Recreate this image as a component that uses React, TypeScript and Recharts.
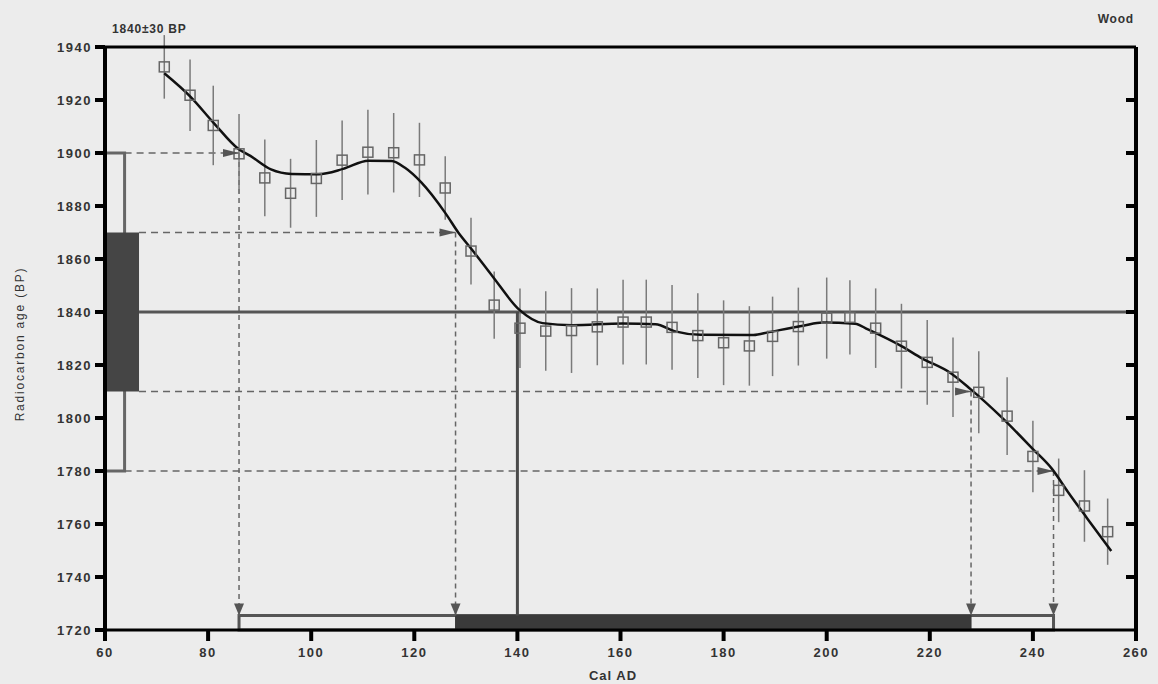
import React from 'react';
import {
  ComposedChart, Line, Scatter, ErrorBar, XAxis, YAxis,
  ReferenceLine, ReferenceArea, ReferenceDot,
} from 'recharts';

// ---------- data ----------
const xTicks = [60, 80, 100, 120, 140, 160, 180, 200, 220, 240, 260];
const yTicks = [1720, 1740, 1760, 1780, 1800, 1820, 1840, 1860, 1880, 1900, 1920, 1940];

const pointYears = [71.5, 76.5, 81, 86, 91, 96, 101, 106, 111, 116, 121, 126, 131, 135.5, 140.5,
  145.5, 150.5, 155.5, 160.5, 165, 170, 175, 180, 185, 189.5, 194.5, 200, 204.5, 209.5, 214.5,
  219.5, 224.5, 229.5, 235, 240, 245, 250, 254.5];
const pointAges = [1932.5, 1921.8, 1910.4, 1899.7, 1890.6, 1884.8, 1890.4, 1897.3, 1900.3, 1900.1,
  1897.4, 1886.8, 1863.0, 1842.6, 1833.9, 1832.8, 1833.0, 1834.4, 1836.2, 1836.2, 1834.2, 1831.1,
  1828.4, 1827.2, 1830.8, 1834.5, 1837.7, 1838.0, 1833.9, 1827.1, 1821.0, 1815.4, 1809.7, 1800.7,
  1785.5, 1772.7, 1766.8, 1757.1];
const pointErrors = [12, 13.5, 15, 15, 14.5, 13, 14.5, 15, 16, 15, 14, 12, 12.6, 12.7, 15, 15, 16,
  14.5, 16, 16, 16, 16, 16, 15, 15, 14.7, 15.3, 14, 15, 16, 16, 15, 15.5, 14.7, 13.5, 12, 13.5, 12.5];

const curveYears = [71.5, 76.6, 81.2, 85.9, 88.2, 92.2, 96.2, 101.4, 106.2, 111.1, 115.6, 118.2,
  121.4, 126.0, 128.6, 131.2, 135.2, 140.4, 144.9, 150.7, 160.4, 166.8, 170.6, 175.5, 185.8, 188.8,
  195.4, 199.2, 205.5, 208.0, 214.5, 218.5, 224.0, 227.9, 233.7, 240.0, 243.7, 246.8, 250.5, 255.2];
const curveAges = [1930.1, 1921.2, 1911.1, 1901.5, 1898.9, 1893.8, 1892.1, 1892.0, 1894.0, 1897.1,
  1897.0, 1894.4, 1888.8, 1877.4, 1869.8, 1863.5, 1853.4, 1840.8, 1835.8, 1835.0, 1835.7, 1835.4,
  1832.7, 1831.4, 1831.3, 1832.4, 1834.8, 1836.0, 1835.6, 1833.4, 1827.1, 1822.5, 1817.0, 1810.9,
  1800.7, 1788.3, 1780.8, 1772.1, 1762.2, 1749.8];

const measuredAge = 1840;
const sigma1Range = [1810, 1870];
const sigma2Range = [1780, 1900];
const cal1Range = [128, 228];
const cal2Range = [86, 244];
const calIntercept = 140;

// ---------- derived tables ----------
const points = pointYears.map((year, i) => ({ year, v: pointAges[i], err: pointErrors[i] }));
const curve = curveYears.map((year, i) => ({ year, v: curveAges[i] }));

// ---------- layout / style constants ----------
const X_MIN = 60;
const X_MAX = 260;
const Y_MIN = 1720;
const Y_MAX = 1940;
const BOX_OPEN_RIGHT = 63.8;
const BOX_FILL_RIGHT = 66.6;
const BAR_TOP = 1725.5;

const FONT = "'Liberation Sans', Arial, sans-serif";
const tickStyle = { fontSize: 13, fontWeight: 700, fill: '#333', fontFamily: FONT, letterSpacing: 1.5 };

const Square = (p: any) => (
  <rect x={p.cx - 5} y={p.cy - 5} width={10} height={10} fill="none" stroke="#666" strokeWidth={1.5} />
);

const RightArrow = (p: any) => (
  <polygon points={`${p.cx - 16},${p.cy - 4} ${p.cx},${p.cy} ${p.cx - 16},${p.cy + 4}`} fill="#555" />
);

const DownArrow = (p: any) => (
  <polygon points={`${p.cx - 5},${p.cy - 12} ${p.cx + 5},${p.cy - 12} ${p.cx},${p.cy}`} fill="#555" />
);

const TopTick = (p: any) => {
  const v = p.payload?.value;
  if (v === X_MIN || v === X_MAX) return <g />;
  return <line x1={p.x} y1={p.y} x2={p.x} y2={p.y + 9} stroke="#000" strokeWidth={4} />;
};

const RightTick = (p: any) => {
  const v = p.payload?.value;
  if (v === Y_MIN || v === Y_MAX) return <g />;
  return <line x1={p.x - 10} y1={p.y} x2={p.x} y2={p.y} stroke="#000" strokeWidth={4} />;
};

const dashH = { stroke: '#666', strokeWidth: 1.5, strokeDasharray: '7 5' };
const dashV = { stroke: '#666', strokeWidth: 1.5, strokeDasharray: '5 4' };

export default function App() {
  const hLines = [
    { y: sigma2Range[1], x0: BOX_OPEN_RIGHT, x1: cal2Range[0] },
    { y: sigma1Range[1], x0: BOX_FILL_RIGHT, x1: cal1Range[0] },
    { y: sigma1Range[0], x0: BOX_FILL_RIGHT, x1: cal1Range[1] },
    { y: sigma2Range[0], x0: BOX_OPEN_RIGHT, x1: cal2Range[1] },
  ];

  return (
    <div style={{ position: 'absolute', left: 0, top: 0, width: 1158, height: 684, background: '#ececec', overflow: 'hidden' }}>
      <ComposedChart
        width={1158}
        height={684}
        margin={{ top: 46, right: 21, bottom: 14, left: 45 }}
      >
        <XAxis
          dataKey="year"
          type="number"
          domain={[X_MIN, X_MAX]}
          ticks={xTicks}
          interval={0}
          allowDataOverflow
          height={40}
          tickSize={11}
          tickMargin={7}
          tick={tickStyle}
          tickLine={{ stroke: '#000', strokeWidth: 4 }}
          axisLine={{ stroke: '#000', strokeWidth: 3 }}
        />
        <XAxis
          xAxisId="top"
          orientation="top"
          type="number"
          domain={[X_MIN, X_MAX]}
          ticks={xTicks}
          interval={0}
          allowDataOverflow
          height={1}
          tickSize={0}
          tickMargin={0}
          tick={TopTick}
          axisLine={{ stroke: '#000', strokeWidth: 3 }}
        />
        <YAxis
          type="number"
          domain={[Y_MIN, Y_MAX]}
          ticks={yTicks}
          interval={0}
          allowDataOverflow
          width={60}
          tickSize={10}
          tickMargin={3}
          tick={tickStyle}
          tickLine={{ stroke: '#000', strokeWidth: 4 }}
          axisLine={{ stroke: '#000', strokeWidth: 4 }}
        />
        <YAxis
          yAxisId="right"
          orientation="right"
          type="number"
          domain={[Y_MIN, Y_MAX]}
          ticks={yTicks}
          interval={0}
          allowDataOverflow
          width={1}
          tickSize={0}
          tickMargin={0}
          tick={RightTick}
          axisLine={{ stroke: '#000', strokeWidth: 4 }}
        />

        {/* radiocarbon measurement boxes on the left */}
        <ReferenceArea x1={X_MIN} x2={BOX_OPEN_RIGHT} y1={sigma2Range[0]} y2={sigma2Range[1]}
          fill="none" stroke="#666" strokeWidth={3} ifOverflow="visible" />
        <ReferenceArea x1={X_MIN} x2={BOX_FILL_RIGHT} y1={sigma1Range[0]} y2={sigma1Range[1]}
          fill="#454545" fillOpacity={1} stroke="none" ifOverflow="visible" />

        {/* calibrated range bars at the bottom */}
        <ReferenceArea x1={cal2Range[0]} x2={cal2Range[1]} y1={Y_MIN} y2={BAR_TOP}
          fill="none" stroke="#555" strokeWidth={3} ifOverflow="visible" />
        <ReferenceArea x1={cal1Range[0]} x2={cal1Range[1]} y1={Y_MIN} y2={BAR_TOP}
          fill="#3a3a3a" fillOpacity={1} stroke="#3a3a3a" strokeWidth={1} ifOverflow="visible" />

        {/* dashed projection lines */}
        {hLines.map((h, i) => (
          <ReferenceLine key={`h${i}`} segment={[{ x: h.x0, y: h.y }, { x: h.x1, y: h.y }]} {...dashH} ifOverflow="visible" />
        ))}
        {hLines.map((h, i) => (
          <ReferenceLine key={`v${i}`} segment={[{ x: h.x1, y: h.y }, { x: h.x1, y: BAR_TOP }]} {...dashV} ifOverflow="visible" />
        ))}

        {/* measured age line and intercept */}
        <ReferenceLine segment={[{ x: BOX_FILL_RIGHT, y: measuredAge }, { x: X_MAX, y: measuredAge }]}
          stroke="#555" strokeWidth={3} ifOverflow="visible" />
        <ReferenceLine segment={[{ x: calIntercept, y: BAR_TOP }, { x: calIntercept, y: measuredAge }]}
          stroke="#4a4a4a" strokeWidth={3} ifOverflow="visible" />

        <Scatter data={points} dataKey="v" shape={Square} isAnimationActive={false}>
          <ErrorBar dataKey="err" direction="y" width={0} stroke="#7a7a7a" strokeWidth={1.5} />
        </Scatter>
        <Line data={curve} dataKey="v" type="monotone" stroke="#111" strokeWidth={2.5}
          dot={false} activeDot={false} isAnimationActive={false} />

        {hLines.map((h, i) => (
          <ReferenceDot key={`ra${i}`} x={h.x1} y={h.y} r={0} shape={RightArrow} ifOverflow="visible" />
        ))}
        {hLines.map((h, i) => (
          <ReferenceDot key={`da${i}`} x={h.x1} y={BAR_TOP} r={0} shape={DownArrow} ifOverflow="visible" />
        ))}
      </ComposedChart>

      <div style={{ position: 'absolute', left: 112, top: 22, fontFamily: FONT, fontSize: 12, fontWeight: 700, color: '#333', letterSpacing: 0.8 }}>
        1840±30 BP
      </div>
      <div style={{ position: 'absolute', right: 24, top: 12, fontFamily: FONT, fontSize: 12, fontWeight: 700, color: '#333', letterSpacing: 0.8 }}>
        Wood
      </div>
      <div style={{ position: 'absolute', left: 613, top: 668, transform: 'translateX(-50%)', fontFamily: FONT, fontSize: 13, fontWeight: 700, color: '#333', letterSpacing: 1, whiteSpace: 'nowrap' }}>
        Cal AD
      </div>
      <div style={{ position: 'absolute', left: 20, top: 344, transform: 'translate(-50%, -50%) rotate(-90deg)', fontFamily: FONT, fontSize: 12, color: '#333', letterSpacing: 1.8, whiteSpace: 'nowrap' }}>
        Radiocarbon age (BP)
      </div>
    </div>
  );
}
